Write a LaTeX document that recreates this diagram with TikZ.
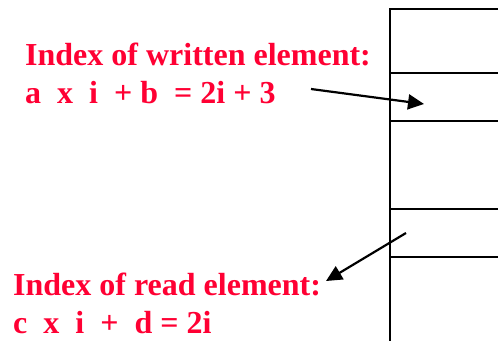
\documentclass[tikz,border=0pt]{standalone}
\usepackage{fontspec}
\setmainfont{Liberation Serif}
\usetikzlibrary{arrows.meta}
\definecolor{labelred}{RGB}{255,0,51}
\begin{document}
\begin{tikzpicture}[x=1pt,y=-1pt,
  label/.style={anchor=base west,inner sep=0pt,text=labelred,font=\fontsize{32}{38}\selectfont\bfseries},
  memline/.style={line width=2.2pt,draw=black},
  pointer/.style={line width=2.2pt,-{Triangle[length=16pt,width=15pt]}}]
\useasboundingbox (0,0) rectangle (498,341);
% memory column
\draw[memline] (498,9) -- (390,9) -- (390,341);
\foreach \yy in {73,121,209,257} {\draw[memline] (390,\yy) -- (498,\yy);}
% labels
\node[label] (w1) at (25,65) {Index of written element:};
\node[label] (w2) at (25,103) {a~~x~~i~~+ b~~= 2i + 3};
\node[label] (r1) at (13,295) {Index of read element:};
\node[label] (r2) at (13,333) {c~~x~~i~~+~~d = 2i};
% arrows
\coordinate (wstart) at (311,89);
\coordinate (wend) at (424,104);
\coordinate (rstart) at (406,233);
\coordinate (rend) at (326,281);
\draw[pointer] (wstart) -- (wend);
\draw[pointer] (rstart) -- (rend);
\end{tikzpicture}
\end{document}
